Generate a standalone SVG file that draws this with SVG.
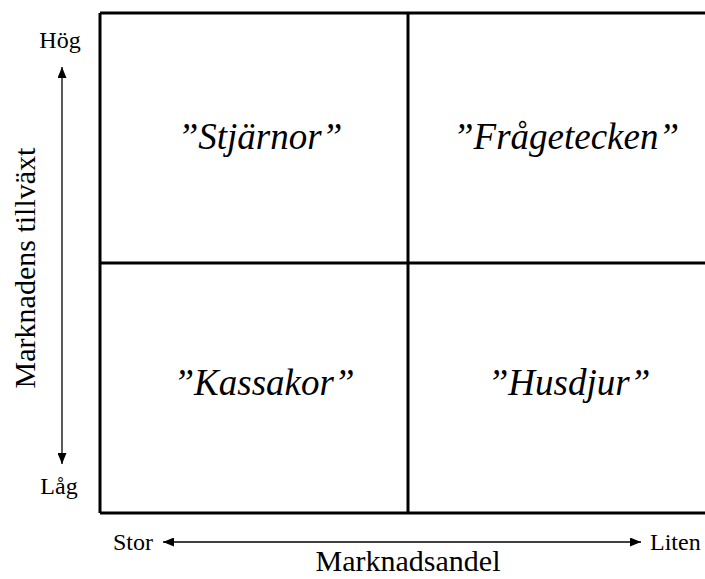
<svg xmlns="http://www.w3.org/2000/svg" width="705" height="579" viewBox="0 0 705 579">
  <style>
    .grid { stroke: #000; stroke-width: 3; fill: none; }
    .axis { stroke: #000; stroke-width: 1.3; fill: none; }
    .quad { font-family: "Liberation Serif", "Times New Roman", serif; font-style: italic; font-size: 37px; fill: #000; text-anchor: middle; }
    .lbl { font-family: "Liberation Serif", "Times New Roman", serif; font-size: 24px; fill: #000; }
    .title { font-family: "Liberation Serif", "Times New Roman", serif; font-size: 30px; fill: #000; text-anchor: middle; }
  </style>
  <defs>
    <marker id="arrow" viewBox="0 0 11 9" refX="11" refY="4.5" markerWidth="11" markerHeight="9" markerUnits="userSpaceOnUse" orient="auto">
      <path d="M0,0 L11,4.5 L0,9 z" fill="#000"/>
    </marker>
  </defs>

  <rect width="705" height="579" fill="#fff"/>

  <!-- matrix frame and dividers -->
  <g id="matrix">
    <path class="grid" d="M100,13 H720 M100,513 H720 M100,13 V513 M408,13 V513 M100,263 H720"/>
  </g>

  <!-- quadrant labels -->
  <g id="stjarnor"><text class="quad" x="260" y="149">”Stjärnor”</text></g>
  <g id="fragetecken"><text class="quad" x="566" y="149">”Frågetecken”</text></g>
  <g id="kassakor"><text class="quad" x="264" y="395">”Kassakor”</text></g>
  <g id="husdjur"><text class="quad" x="569" y="395">”Husdjur”</text></g>

  <!-- axes -->
  <g id="connectors">
    <line class="axis" x1="62" y1="263" x2="62" y2="67" marker-end="url(#arrow)"/>
    <line class="axis" x1="62" y1="263" x2="62" y2="464" marker-end="url(#arrow)"/>
    <line class="axis" x1="400" y1="542" x2="163" y2="542" marker-end="url(#arrow)"/>
    <line class="axis" x1="400" y1="542" x2="641" y2="542" marker-end="url(#arrow)"/>
  </g>

  <!-- axis labels -->
  <g id="axis-labels">
    <text class="lbl" x="60" y="48" text-anchor="middle">Hög</text>
    <text class="lbl" x="59" y="494" text-anchor="middle">Låg</text>
    <text class="lbl" x="113" y="550">Stor</text>
    <text class="lbl" x="650" y="550">Liten</text>
    <text class="title" x="408" y="571">Marknadsandel</text>
    <text class="title" transform="translate(35,268) rotate(-90)" x="0" y="0">Marknadens tillväxt</text>
  </g>
</svg>
